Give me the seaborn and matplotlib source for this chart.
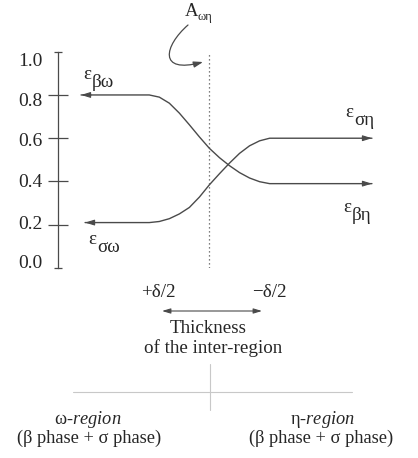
import matplotlib
matplotlib.use("Agg")
import matplotlib.pyplot as plt
from matplotlib.path import Path
from matplotlib.patches import FancyArrowPatch
from matplotlib.lines import Line2D
from matplotlib.transforms import ScaledTranslation
import pandas as pd
import seaborn as sns

# Position across the interface, in units of delta/2 (0 = interface centre)
x_transition = [-1.2, -1.0, -0.8, -0.6, -0.4, -0.2, 0.0, 0.2, 0.4, 0.6, 0.8, 1.0, 1.2]
x_beta = [-2.56] + x_transition + [3.24]
x_sigma = [-2.48] + x_transition + [3.24]

# Strain of the beta phase (omega-region -> eta-region)
eps_beta = [0.80, 0.80, 0.79, 0.762, 0.716, 0.662, 0.606, 0.553, 0.51, 0.473,
             0.441, 0.416, 0.399, 0.39, 0.39]
# Strain of the sigma phase (omega-region -> eta-region)
eps_sigma = [0.21, 0.21, 0.215, 0.228, 0.25, 0.28, 0.328, 0.385, 0.436, 0.485,
             0.53, 0.565, 0.588, 0.60, 0.60]

y_ticks = [0.0, 0.2, 0.4, 0.6, 0.8, 1.0]
y_tick_labels = ["0.0", "0.2", "0.4", "0.6", "0.8", "1.0"]

W, H = 418, 458
LINE = "#4a4a4a"
TEXT = "#262626"
FS = 13.7

sns.set_theme(style="white")
plt.rcParams["font.family"] = ["Liberation Serif", "DejaVu Serif"]
plt.rcParams["mathtext.fontset"] = "custom"
plt.rcParams["mathtext.rm"] = "Liberation Serif"
plt.rcParams["mathtext.it"] = "Liberation Serif:italic"
plt.rcParams["text.color"] = TEXT

fig = plt.figure(figsize=(W / 100, H / 100), dpi=100)
fig.patch.set_facecolor("white")

# axes placed so the y spine runs from 0 to 1
left, right = 57.5 / W, 390 / W
bottom, top = 1 - 268 / H, 1 - 51.7 / H
ax = fig.add_axes([left, bottom, right - left, top - bottom])
ax.set_facecolor("white")

df = pd.concat([
    pd.DataFrame({"x": x_beta, "eps": eps_beta, "phase": "beta"}),
    pd.DataFrame({"x": x_sigma, "eps": eps_sigma, "phase": "sigma"}),
])
sns.lineplot(data=df, x="x", y="eps", hue="phase", palette=[LINE, LINE],
             sort=False, estimator=None, legend=False, lw=1.0, ax=ax)

# arrowheads at the ends of both curves
head = dict(arrowstyle="-|>,head_length=0.55,head_width=0.17", color=LINE,
            lw=0.8, shrinkA=0, shrinkB=0, mutation_scale=10)
for xs, ys in ((x_beta, eps_beta), (x_sigma, eps_sigma)):
    ax.annotate("", xy=(xs[0], ys[0]), xytext=(xs[0] + 0.2, ys[0]), arrowprops=head)
    ax.annotate("", xy=(xs[-1], ys[-1]), xytext=(xs[-1] - 0.2, ys[-1]), arrowprops=head)

# interface centre
ax.axvline(0, color="#555555", lw=0.9, ls=(0, (1, 2.2)))

ax.set_xlim(-3.03, 3.6)
ax.set_ylim(0, 1)
ax.set_xlabel("")
ax.set_ylabel("")
ax.set_xticks([])
ax.set_yticks(y_ticks)
ax.set_yticklabels(y_tick_labels, fontsize=14, color=TEXT)
for s in ("top", "right", "bottom"):
    ax.spines[s].set_visible(False)
ax.spines["left"].set_color(LINE)
ax.spines["left"].set_linewidth(0.9)
ax.tick_params(axis="y", direction="inout", length=14.4, width=0.9,
               color=LINE, pad=3.6, left=True)
yt = ax.yaxis.get_major_ticks()
for t in (yt[0], yt[-1]):
    t.tick1line.set_markersize(5.8)
# the value labels sit on a slightly tighter scale than the tick marks
label_shift_px = [-7.0, -2.2, -0.5, 0.8, 5.0, 8.3]
for lbl, d in zip(ax.get_yticklabels(), label_shift_px):
    lbl.set_transform(lbl.get_transform()
                      + ScaledTranslation(0, -d / 100, fig.dpi_scale_trans))


def P(x, y):
    return (x / W, 1 - y / H)


def ftext(x, y, s, **kw):
    kw.setdefault("fontsize", FS)
    kw.setdefault("color", TEXT)
    fig.text(*P(x, y), s, **kw)


def strain_label(x, y, sub):
    ftext(x, y, "ε", ha="left", va="baseline")
    ftext(x + 9, y + 8, sub, ha="left", va="baseline")


strain_label(83, 79, "βω")
strain_label(345, 117, "ση")
strain_label(343, 212, "βη")
strain_label(88, 244, "σω")

# interface label with curved pointer
ftext(185, 16, "A", ha="left", va="baseline", fontsize=13.5)
ftext(198, 20, "ωη", ha="left", va="baseline", fontsize=9)
curve = Path([P(188, 25), P(164, 46), P(158, 74), P(203, 62)],
             [Path.MOVETO, Path.CURVE4, Path.CURVE4, Path.CURVE4])
fig.add_artist(FancyArrowPatch(path=curve, transform=fig.transFigure,
                               arrowstyle="-|>,head_length=0.55,head_width=0.18",
                               color=LINE, lw=0.9, mutation_scale=10))

# thickness of the inter-region
ftext(158.5, 297, "+δ/2", ha="center", va="baseline")
ftext(269, 297, "−δ/2", ha="center", va="baseline")
fig.add_artist(FancyArrowPatch(P(162, 311), P(262, 311), transform=fig.transFigure,
                               arrowstyle="<|-|>,head_length=0.5,head_width=0.15",
                               color=LINE, lw=0.8, mutation_scale=10,
                               shrinkA=0, shrinkB=0))
ftext(208, 333, "Thickness", ha="center", va="baseline")
ftext(213, 353, "of the inter-region", ha="center", va="baseline")

# region divider
fig.add_artist(Line2D([P(73, 392)[0], P(352, 392)[0]], [P(73, 392)[1]] * 2,
                      transform=fig.transFigure, color="#c8c8c8", lw=0.8))
fig.add_artist(Line2D([P(210, 364)[0]] * 2, [P(210, 364)[1], P(210, 410)[1]],
                      transform=fig.transFigure, color="#c8c8c8", lw=0.8))

REGION_FS = 13.2
ftext(88, 424, r"ω-$\mathit{region}$", ha="center", va="baseline", fontsize=REGION_FS)
ftext(89, 443, "(β phase + σ phase)", ha="center", va="baseline", fontsize=REGION_FS)
ftext(322, 424, r"η-$\mathit{region}$", ha="center", va="baseline", fontsize=REGION_FS)
ftext(321, 443, "(β phase + σ phase)", ha="center", va="baseline", fontsize=REGION_FS)

fig.savefig("out.png", dpi=100, facecolor="white")
